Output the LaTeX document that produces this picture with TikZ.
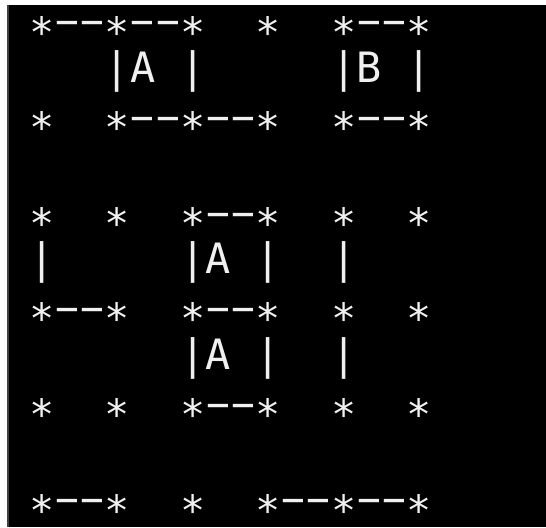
\documentclass[tikz,border=0pt]{standalone}
\usepackage{fontspec}
\setmonofont{DejaVu Sans Mono}
% terminal glyphs: star sits on the dash line, dash fills its cell
\newcommand\sta{\raisebox{-0.29em}{*}}
\newcommand\dsh{\makebox[\fontcharwd\font`\-]{\scalebox{1.9}[1]{-}}}
\begin{document}
\begin{tikzpicture}[
	x=0.5pt,
	y=-0.5pt,
	termline/.style={
		anchor=base west,
		inner sep=0pt,
		outer sep=0pt,
		text=white!94!black,
		font=\ttfamily\fontsize{20.9}{24}\selectfont
	}
]

% Fondo de la terminal
\fill[white] (0,0) rectangle (546,527);
\fill[black] (9,5) rectangle (546,527);
\draw[black!75, line width=1pt] (8,5) -- (8,527);

% Bloque superior: celdas A y B
\node[termline] (line1) at (29.5,35) {\sta\dsh\dsh\sta\dsh\dsh\sta~~\sta~~\sta\dsh\dsh\sta};
\node[termline] (line2) at (29.5,82.8) {~~~|A~|~~~~~|B~|};
\node[termline] (line3) at (29.5,130.6) {\sta~~\sta\dsh\dsh\sta\dsh\dsh\sta~~\sta\dsh\dsh\sta};

% Bloque central: dos celdas A apiladas
\node[termline] (line5) at (29.5,226.2) {\sta~~\sta~~\sta\dsh\dsh\sta~~\sta~~\sta};
\node[termline] (line6) at (29.5,274) {|~~~~~|A~|~~|};
\node[termline] (line7) at (29.5,321.8) {\sta\dsh\dsh\sta~~\sta\dsh\dsh\sta~~\sta~~\sta};
\node[termline] (line8) at (29.5,369.6) {~~~~~~|A~|~~|};
\node[termline] (line9) at (29.5,417.4) {\sta~~\sta~~\sta\dsh\dsh\sta~~\sta~~\sta};

% Fila inferior
\node[termline] (line11) at (29.5,513) {\sta\dsh\dsh\sta~~\sta~~\sta\dsh\dsh\sta\dsh\dsh\sta};

\end{tikzpicture}
\end{document}
